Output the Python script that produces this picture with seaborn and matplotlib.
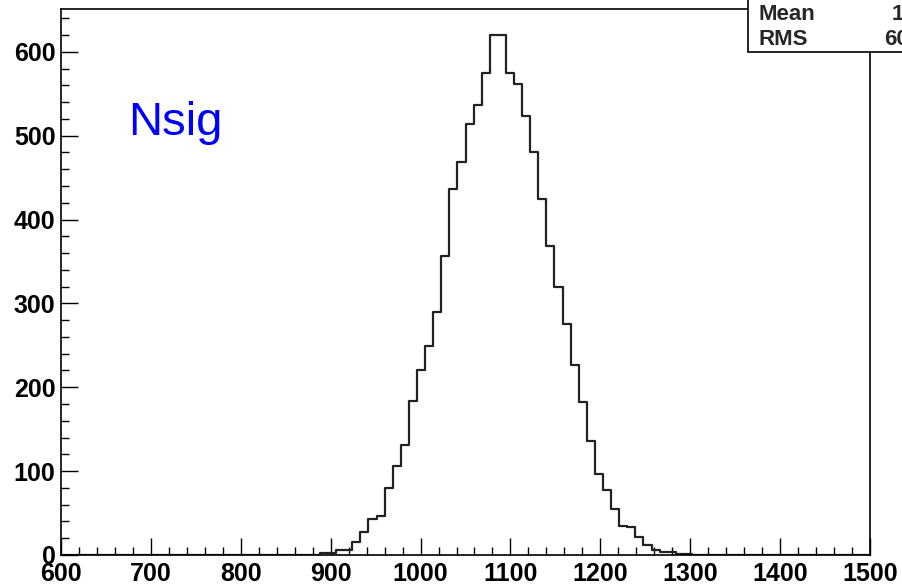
import numpy as np
import pandas as pd
import matplotlib
matplotlib.use("Agg")
import matplotlib.pyplot as plt
import seaborn as sns
from matplotlib.ticker import MultipleLocator
from matplotlib.patches import Rectangle

# Histogram of Nsig: 100 bins of width 9 over [600, 1500]; only filled bins listed
bin_low = [888, 897, 906, 915, 924, 933, 942, 951, 960, 969,
           978, 987, 996, 1005, 1014, 1023, 1032, 1041, 1050, 1059,
           1068, 1077, 1086, 1095, 1104, 1113, 1122, 1131, 1140, 1149,
           1158, 1167, 1176, 1185, 1194, 1203, 1212, 1221, 1230, 1239,
           1248, 1257, 1266, 1275, 1284, 1293]
counts = [2, 2, 6, 6, 16, 28, 43, 47, 80, 106,
          131, 184, 220, 249, 290, 357, 436, 468, 514, 537,
          575, 620, 620, 575, 561, 523, 480, 424, 369, 319,
          276, 227, 182, 136, 97, 77, 55, 35, 33, 22,
          12, 6, 4, 4, 1, 1]

x_range = (600, 1500)
n_bins = 100
y_max = 651

x_ticks = [600, 700, 800, 900, 1000, 1100, 1200, 1300, 1400, 1500]
y_ticks = [0, 100, 200, 300, 400, 500, 600]

stat_names = ["Mean", "RMS"]
stat_values = ["1087", "60.2"]
hist_name = "Nsig"

sns.set_theme(style="white")
plt.rcParams["font.family"] = ["Liberation Sans", "DejaVu Sans"]

W, H = 902, 585
fig = plt.figure(figsize=(W / 100, H / 100), dpi=100)
fig.patch.set_facecolor("white")

ax_l, ax_r, ax_t, ax_b = 61, 870, 9, 555
ax = fig.add_axes([ax_l / W, (H - ax_b) / H, (ax_r - ax_l) / W, (ax_b - ax_t) / H])

df = pd.DataFrame({"Nsig": np.array(bin_low) + 4.5, "entries": counts})
sns.histplot(data=df, x="Nsig", weights="entries", bins=n_bins, binrange=x_range,
             element="step", fill=False, color="#222222", linewidth=1.6, ax=ax)

ax.set_xlim(*x_range)
ax.set_ylim(0, y_max)
ax.set_xlabel("")
ax.set_ylabel("")
ax.set_xticks(x_ticks)
ax.set_yticks(y_ticks)
ax.xaxis.set_minor_locator(MultipleLocator(20))
ax.yaxis.set_minor_locator(MultipleLocator(20))
ax.tick_params(which="major", direction="in", length=12, width=1.0, color="black",
               labelsize=18, top=False, right=False, bottom=True, left=True)
ax.tick_params(axis="x", which="major", pad=5)
ax.tick_params(axis="y", which="major", pad=4)
ax.tick_params(which="minor", direction="in", length=6, width=1.0, color="black",
               top=False, right=False, bottom=True, left=True)
for lab in ax.get_xticklabels() + ax.get_yticklabels():
    lab.set_fontweight("bold")
    lab.set_color("black")
for sp in ax.spines.values():
    sp.set_visible(True)
    sp.set_color("black")
    sp.set_linewidth(1.2)

# Histogram name
fig.text(128 / W, 1 - 135 / H, hist_name, color="#0000ff", fontsize=34,
         ha="left", va="baseline")

# Statistics box in the top-right corner (partly beyond the canvas)
box = Rectangle((748 / W, 1 - 52 / H), 200 / W, 80 / H, transform=fig.transFigure,
                facecolor="white", edgecolor="black", linewidth=1.2, clip_on=False)
fig.add_artist(box)
for i, (name, val) in enumerate(zip(stat_names, stat_values)):
    y = 1 - (20 + 25 * i) / H
    fig.text(758 / W, y, name, fontsize=16, fontweight="bold", ha="left", va="baseline")
    fig.text((892 if i == 0 else 884) / W, y, val, fontsize=16, fontweight="bold",
             ha="left", va="baseline")

fig.savefig("out.png", dpi=100)
